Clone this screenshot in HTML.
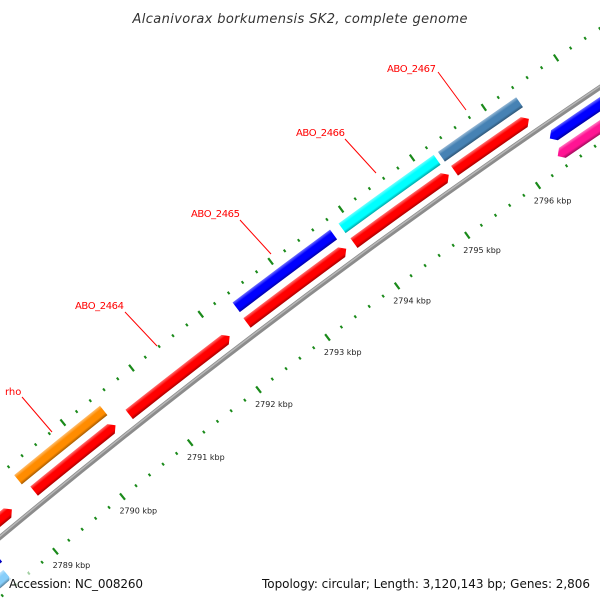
<!DOCTYPE html>
<html><head><meta charset="utf-8"><style>
html,body{margin:0;padding:0;background:#fff;width:600px;height:600px;overflow:hidden;}
svg{display:block;overflow:hidden;}
text{font-family:"DejaVu Sans","Liberation Sans",sans-serif;}
</style></head><body>
<svg id="map" width="600" height="600" viewBox="0 0 600 600" xmlns="http://www.w3.org/2000/svg">
<defs id="defs"><clipPath id="frame"><rect x="0" y="0" width="600" height="600"/></clipPath></defs>
<rect x="0" y="0" width="600" height="600" fill="#fff"/>
<g clip-path="url(#frame)">
<g id="ticks"></g>
<g id="backbone"></g>
<g id="features"></g>
<g id="ticklabels"></g>
</g>
<g id="genelabels">
  <line x1="22" y1="397" x2="52" y2="432" stroke="#ff0000" stroke-width="1"/>
  <text x="5" y="395" font-size="10" fill="#ff0000">rho</text>
  <line x1="125" y1="312" x2="157" y2="346" stroke="#ff0000" stroke-width="1"/>
  <text x="75" y="309" font-size="10" fill="#ff0000" textLength="49">ABO_2464</text>
  <line x1="240" y1="220" x2="271" y2="254" stroke="#ff0000" stroke-width="1"/>
  <text x="191" y="217" font-size="10" fill="#ff0000" textLength="49">ABO_2465</text>
  <line x1="345" y1="139" x2="376" y2="173" stroke="#ff0000" stroke-width="1"/>
  <text x="296" y="136" font-size="10" fill="#ff0000" textLength="49">ABO_2466</text>
  <line x1="438" y1="72" x2="466" y2="110" stroke="#ff0000" stroke-width="1"/>
  <text x="387" y="72" font-size="10" fill="#ff0000" textLength="49">ABO_2467</text>
</g>
<text x="300" y="23" font-size="13" font-style="italic" fill="#333" text-anchor="middle" textLength="335">Alcanivorax borkumensis SK2, complete genome</text>
<rect x="9" y="572" width="135" height="25" fill="#fff" opacity="0.6"/>
<text x="9" y="588" font-size="12" fill="#111" textLength="134">Accession: NC_008260</text>
<rect x="260" y="572" width="332" height="25" fill="#fff" opacity="0.6"/>
<text x="590" y="588" font-size="12" fill="#111" text-anchor="end" textLength="328">Topology: circular; Length: 3,120,143 bp; Genes: 2,806</text>
</svg>
<script>
// ---- data ----
const featStart = [2787.5, 2789.25, 2790.65, 2792.36, 2793.89, 2795.31, 2789.19, 2792.37, 2793.88, 2795.28, 2796.42, 2796.38, 2787.5, 2787.5, 2788.2];
const featEnd   = [2788.92, 2790.45, 2792.11, 2793.78, 2795.23, 2796.35, 2790.45, 2793.76, 2795.22, 2796.37, 2798.5, 2798.5, 2788.45, 2788.3, 2788.4];
const featTrack = ["fwd","fwd","fwd","fwd","fwd","fwd","up","up","up","up","rev","rev2","rev","rev2","rev2"];
const featArrow = ["right","right","right","right","right","right","none","none","none","none","left","left","none","none","none"];
const featColor = ["#ff0000","#ff0000","#ff0000","#ff0000","#ff0000","#ff0000","#ff8c00","#0000ff","#00ffff","#4682b4","#0000ff","#ff1493","#0000ff","#483d8b","#87cefa"];
const featName  = ["gene-left","gene-rho-partner","gene-abo-2464","gene-abo-2465-partner","gene-abo-2466-partner","gene-abo-2467-partner","gene-rho","gene-abo-2465","gene-abo-2466","gene-abo-2467","gene-right-blue","gene-right-pink","gene-bottom-blue","gene-bottom-slate","gene-bottom-cyan"];
const tickLabelKbp = [2789, 2790, 2791, 2792, 2793, 2794, 2795, 2796];
const tickLabelText = ["2789 kbp","2790 kbp","2791 kbp","2792 kbp","2793 kbp","2794 kbp","2795 kbp","2796 kbp"];

// ---- geometry ----
const NS = "http://www.w3.org/2000/svg";
const CX = 4736, CY = 6226, R0 = 7402;
const REF_KBP = 2793, REF_DEG = -126.82, DEG_PER_KBP = 0.674;
const trackOffset = {fwd: 14, up: 33, rev: -14, rev2: -33};
const BAR_W = 12;
function ang(k){ return (REF_DEG + (k - REF_KBP) * DEG_PER_KBP) * Math.PI / 180; }
function pt(k, r){ const a = ang(k); return [CX + r * Math.cos(a), CY + r * Math.sin(a)]; }
function P(p){ return p[0].toFixed(2) + "," + p[1].toFixed(2); }
function shade(hex, f){
  let n = parseInt(hex.slice(1), 16), r = n >> 16, g = (n >> 8) & 255, b = n & 255;
  if (f > 0){ r += (255 - r) * f; g += (255 - g) * f; b += (255 - b) * f; }
  else { r *= (1 + f); g *= (1 + f); b *= (1 + f); }
  return "rgb(" + Math.round(r) + "," + Math.round(g) + "," + Math.round(b) + ")";
}

// backbone
(function(){
  const g = document.getElementById("backbone");
  const a = pt(2786.5, R0), b = pt(2798.5, R0);
  const path = document.createElementNS(NS, "path");
  path.setAttribute("d", "M" + P(a) + " A" + R0 + "," + R0 + " 0 0 1 " + P(b));
  path.setAttribute("fill", "none");
  path.setAttribute("stroke", "#8c8c8c");
  path.setAttribute("stroke-width", "5");
  
  
  g.appendChild(path);
  const hi = document.createElementNS(NS, "path");
  const a2 = pt(2786.5, R0 + 1), b2 = pt(2798.5, R0 + 1);
  hi.setAttribute("d", "M" + P(a2) + " A" + (R0 + 1) + "," + (R0 + 1) + " 0 0 1 " + P(b2));
  hi.setAttribute("fill", "none");
  hi.setAttribute("stroke", "#b8b8b8");
  hi.setAttribute("stroke-width", "1.5");
  
  
  g.appendChild(hi);
})();

// ticks
(function(){
  const g = document.getElementById("ticks");
  for (let i = 0; i <= 60; i++){
    const k = 2786 + i / 5;
    const major = (i % 5 === 0);
    const len = major ? 8 : 3;
    [R0 + 49, R0 - 46].forEach(function(rc, j){
      const p1 = pt(k, rc - len / 2), p2 = pt(k, rc + len / 2);
      const ln = document.createElementNS(NS, "line");
      ln.setAttribute("x1", p1[0].toFixed(2)); ln.setAttribute("y1", p1[1].toFixed(2));
      ln.setAttribute("x2", p2[0].toFixed(2)); ln.setAttribute("y2", p2[1].toFixed(2));
      ln.setAttribute("stroke", "#1a8a1a");
      ln.setAttribute("stroke-width", major ? "2.2" : "2");
      
      
      g.appendChild(ln);
    });
  }
  const tl = document.getElementById("ticklabels");
  tickLabelKbp.forEach(function(k, i){
    const p = pt(k, R0 - 68);
    const t = document.createElementNS(NS, "text");
    t.setAttribute("x", (p[0] + 2).toFixed(2));
    t.setAttribute("y", (p[1] + 0).toFixed(2));
    t.setAttribute("font-size", "8");
    t.setAttribute("fill", "#222");
    t.setAttribute("text-anchor", "middle");
    t.textContent = tickLabelText[i];
    
    
    tl.appendChild(t);
  });
})();

// features
(function(){
  const g = document.getElementById("features");
  const defs = document.getElementById("defs");
  const AH = 0.065;
  for (let i = 0; i < featStart.length; i++){
    const rc = R0 + trackOffset[featTrack[i]];
    const ro = rc + BAR_W / 2, ri = rc - BAR_W / 2;
    const s = featStart[i], e = featEnd[i];
    let pts = [];
    const n = 6;
    let s2 = s, e2 = e;
    if (featArrow[i] === "right") e2 = e - AH;
    if (featArrow[i] === "left") s2 = s + AH;
    for (let j = 0; j <= n; j++) pts.push(pt(s2 + (e2 - s2) * j / n, ro));
    if (featArrow[i] === "right") pts.push(pt(e, rc));
    for (let j = n; j >= 0; j--) pts.push(pt(s2 + (e2 - s2) * j / n, ri));
    if (featArrow[i] === "left") pts.push(pt(s, rc));
    const mid = (s + e) / 2;
    const go = pt(mid, ro), gi = pt(mid, ri);
    const gid = "grad" + i;
    const lg = document.createElementNS(NS, "linearGradient");
    lg.setAttribute("id", gid);
    lg.setAttribute("gradientUnits", "userSpaceOnUse");
    lg.setAttribute("x1", go[0].toFixed(2)); lg.setAttribute("y1", go[1].toFixed(2));
    lg.setAttribute("x2", gi[0].toFixed(2)); lg.setAttribute("y2", gi[1].toFixed(2));
    [[0, shade(featColor[i], 0.45)], [0.3, featColor[i]], [0.75, featColor[i]], [1, shade(featColor[i], -0.35)]].forEach(function(st){
      const so = document.createElementNS(NS, "stop");
      so.setAttribute("offset", st[0]);
      so.setAttribute("stop-color", st[1]);
      lg.appendChild(so);
    });
    defs.appendChild(lg);
    const poly = document.createElementNS(NS, "polygon");
    poly.setAttribute("points", pts.map(P).join(" "));
    poly.setAttribute("fill", "url(#" + gid + ")");
    
    
    g.appendChild(poly);
  }
})();
</script>
</body></html>
